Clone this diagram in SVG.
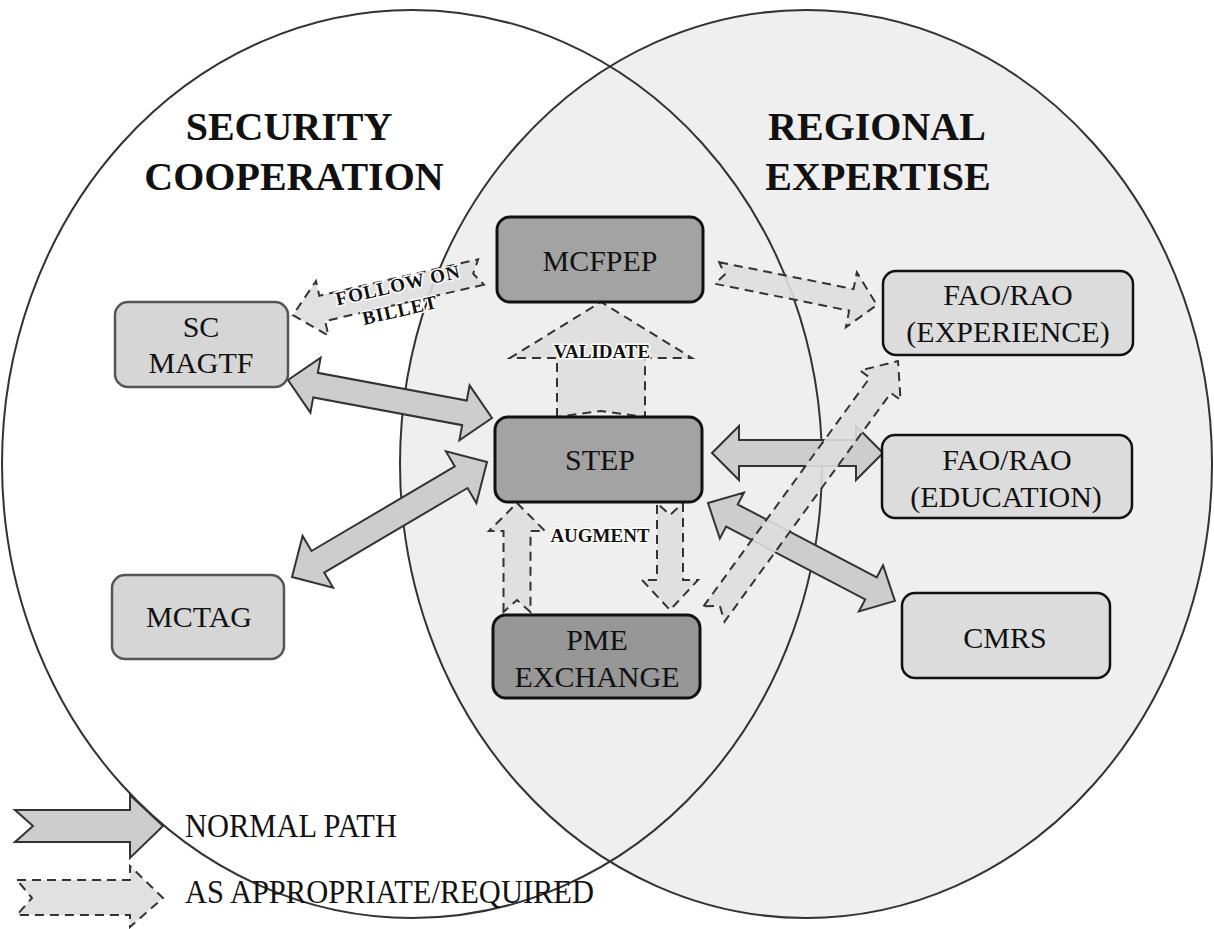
<svg xmlns="http://www.w3.org/2000/svg" width="1214" height="929" viewBox="0 0 1214 929">
<defs>
<style>
.circle{fill:none;stroke:#333;stroke-width:2}
.title{font-family:"Liberation Serif","Times New Roman",serif;font-weight:bold;font-size:40px;fill:#111;text-anchor:middle}
.nt{font-family:"Liberation Serif","Times New Roman",serif;font-size:30px;fill:#111;text-anchor:middle}
.lbl{font-family:"Liberation Serif","Times New Roman",serif;font-weight:bold;font-size:19px;fill:#111;text-anchor:middle;stroke:#fff;stroke-width:3;paint-order:stroke;stroke-linejoin:round}
.lg{font-family:"Liberation Serif","Times New Roman",serif;font-size:33px;fill:#111}
.solid{fill:#cdcdcd;stroke:#333;stroke-width:2;stroke-linejoin:miter}
.dash{fill:#dedede;fill-opacity:0.9;stroke:#333;stroke-width:2;stroke-dasharray:9 6}
.light{fill:#d6d6d6;stroke:#555;stroke-width:2.5}
.dark{fill:#a3a3a3;stroke:#111;stroke-width:3}
.pale{fill:#dcdcdc;stroke:#111;stroke-width:2.5}
</style>
</defs>
<g id="background">
<ellipse cx="806" cy="464" rx="406" ry="454" fill="#efefef" stroke="#333" stroke-width="2"/>
<ellipse class="circle" cx="412" cy="464" rx="410" ry="454"/>
</g>
<g id="titles">
<text class="title" x="289" y="140">SECURITY</text>
<text class="title" x="294" y="190">COOPERATION</text>
<text class="title" x="877" y="140">REGIONAL</text>
<text class="title" x="878" y="190">EXPERTISE</text>
</g>
<g id="connectors">
<path class="solid" transform="translate(288,380) rotate(10.55)" d="M0,0 L28,-28 L28,-12.5 L179.5,-12.5 L179.5,-28 L207.5,0 L179.5,28 L179.5,12.5 L28,12.5 L28,28 Z"/>
<path class="solid" transform="translate(292,577) rotate(-30.53)" d="M0,0 L30,-30 L30,-12.5 L196.4,-12.5 L196.4,-30 L226.4,0 L196.4,30 L196.4,12.5 L30,12.5 L30,30 Z"/>
<path class="solid" transform="translate(712,453)" d="M0,0 L27,-27 L27,-13 L144,-13 L144,-27 L171,0 L144,27 L144,13 L27,13 L27,27 Z"/>
<path class="solid" transform="translate(708,503) rotate(27.65)" d="M0,0 L27,-26 L27,-12.5 L184,-12.5 L184,-26 L211,0 L184,26 L184,12.5 L27,12.5 L27,26 Z"/>
<path class="dash" transform="translate(481,272) rotate(167.1)" d="M0,-13 L162.9,-13 L162.9,-28 L192.9,0 L162.9,28 L162.9,13 L0,13 L8,0 Z"/>
<path class="dash" transform="translate(601,417) rotate(-90)" d="M0,-44 L59,-44 L59,-91 L115,0 L59,91 L59,44 L0,44 L6,0 Z"/>
<path class="dash" transform="translate(517,612) rotate(-90)" d="M0,-13.5 L81,-13.5 L81,-28 L109,0 L81,28 L81,13.5 L0,13.5 L12,0 Z"/>
<path class="dash" transform="translate(670,503) rotate(90)" d="M0,-13 L77,-13 L77,-28 L107,0 L77,28 L77,13 L0,13 L12,0 Z"/>
<path class="dash" transform="translate(717,273) rotate(11.3)" d="M0,-11 L137,-11 L137,-28 L163,0 L137,28 L137,11 L0,11 L8,0 Z"/>
<path class="dash" transform="translate(714,614) rotate(-53.97)" d="M0,-13 L282.8,-13 L282.8,-25 L312.8,0 L282.8,25 L282.8,13 L0,13 L10,0 Z"/>
<text class="lbl" transform="translate(398,285) rotate(-12.9)" y="6.5" letter-spacing="1">FOLLOW ON</text>
<text class="lbl" transform="translate(400,310) rotate(-12.9)" y="6.5" letter-spacing="1">BILLET</text>
<text class="lbl" x="602" y="358">VALIDATE</text>
<text class="lbl" x="600" y="542" font-size="20">AUGMENT</text>
</g>
<g id="node-mcfpep">
<rect class="dark" x="497" y="217" width="206" height="85" rx="13"/>
<text class="nt" x="600" y="271">MCFPEP</text>
</g>
<g id="node-sc-magtf">
<rect class="light" x="115" y="302" width="173" height="85" rx="13"/>
<text class="nt" x="201" y="337">SC</text>
<text class="nt" x="201" y="373">MAGTF</text>
</g>
<g id="node-step">
<rect class="dark" x="495" y="417" width="207" height="85" rx="13" fill="#9c9c9c"/>
<text class="nt" x="600" y="470">STEP</text>
</g>
<g id="node-pme">
<rect class="dark" x="493" y="615" width="207" height="83" rx="13" style="fill:#979797"/>
<text class="nt" x="597" y="650">PME</text>
<text class="nt" x="597" y="687">EXCHANGE</text>
</g>
<g id="node-mctag">
<rect class="light" x="112" y="575" width="172" height="84" rx="13"/>
<text class="nt" x="199" y="627">MCTAG</text>
</g>
<g id="node-fao-experience">
<rect class="pale" x="883" y="271" width="250" height="84" rx="13"/>
<text class="nt" x="1008" y="305">FAO/RAO</text>
<text class="nt" x="1008" y="342">(EXPERIENCE)</text>
</g>
<g id="node-fao-education">
<rect class="pale" x="882" y="435" width="250" height="83" rx="13"/>
<text class="nt" x="1007" y="470">FAO/RAO</text>
<text class="nt" x="1006" y="507">(EDUCATION)</text>
</g>
<g id="node-cmrs">
<rect class="pale" x="902" y="593" width="208" height="85" rx="13"/>
<text class="nt" x="1005" y="648">CMRS</text>
</g>
<g id="legend">
<path class="solid" d="M15,810 L130,810 L130,795 L163,826 L130,858 L130,842 L15,842 L33,826 Z"/>
<path class="dash" d="M17,880 L130,880 L130,866 L163,898 L130,927 L130,915 L17,915 L32,898 Z"/>
<text class="lg" x="185" y="837" textLength="212" lengthAdjust="spacingAndGlyphs">NORMAL PATH</text>
<text class="lg" x="185" y="903" textLength="409" lengthAdjust="spacingAndGlyphs">AS APPROPRIATE/REQUIRED</text>
</g>
</svg>
